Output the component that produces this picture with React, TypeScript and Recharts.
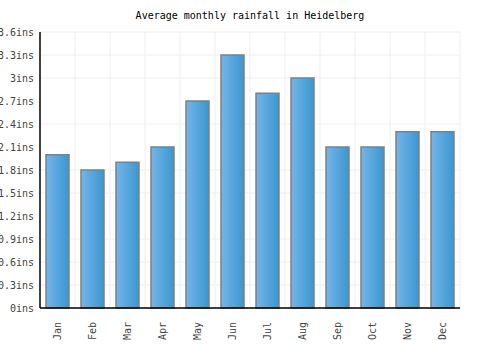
import { BarChart, Bar, XAxis, YAxis, CartesianGrid } from 'recharts';

const months = ['Jan', 'Feb', 'Mar', 'Apr', 'May', 'Jun', 'Jul', 'Aug', 'Sep', 'Oct', 'Nov', 'Dec'];
const rainfall = [2.0, 1.8, 1.9, 2.1, 2.7, 3.3, 2.8, 3.0, 2.1, 2.1, 2.3, 2.3];
const yTicks = [0, 0.3, 0.6, 0.9, 1.2, 1.5, 1.8, 2.1, 2.4, 2.7, 3, 3.3, 3.6];

const data = months.map((m, i) => ({ month: m, rain: rainfall[i] }));

const font = '"DejaVu Sans Mono", monospace';

const fmt = (v: number) => `${Math.round(v * 10) / 10}ins`;

const MonthTick = (props: any) => {
    const { x, y, payload } = props;
    return (
        <text x={x} y={y + 6} transform={`rotate(-90, ${x}, ${y + 6})`} textAnchor="end"
            dominantBaseline="central" fontFamily={font} fontSize={10} fill="#444">
            {payload.value}
        </text>
    );
};

// vertical grid between categories
const boundaries = ({ offset }: any) => {
    const step = offset.width / months.length;
    return months.map((_, i) => offset.left + step * (i + 1));
};

export default function App() {
    return (
        <div style={{ position: 'absolute', left: 0, top: 0, width: 500, height: 350, background: '#fff' }}>
            <div style={{ position: 'absolute', top: 10, width: 500, textAlign: 'center', fontFamily: font, fontSize: 10, color: '#000' }}>
                Average monthly rainfall in Heidelberg
            </div>
            <BarChart width={500} height={350} data={data} margin={{ top: 32, right: 40, bottom: 0, left: 0 }}>
                <defs>
                    <linearGradient id="barGrad" x1="0" y1="0" x2="1" y2="0">
                        <stop offset="0%" stopColor="#74b5ea" />
                        <stop offset="100%" stopColor="#3a97cf" />
                    </linearGradient>
                </defs>
                <CartesianGrid stroke="#eeeeee" verticalCoordinatesGenerator={boundaries} />
                <XAxis dataKey="month" height={42} tick={<MonthTick />} tickLine={false}
                    axisLine={{ stroke: '#000', strokeWidth: 1.5 }} interval={0} />
                <YAxis width={40} domain={[0, 3.6]} ticks={yTicks} tickFormatter={fmt} tickLine={false}
                    axisLine={{ stroke: '#000', strokeWidth: 1.5 }} tickMargin={0}
                    tick={{ fontFamily: font, fontSize: 10, fill: '#444' }} />
                <Bar dataKey="rain" barSize={23} fill="url(#barGrad)" stroke="#808080" strokeWidth={1.5}
                    isAnimationActive={false} />
            </BarChart>
        </div>
    );
}
